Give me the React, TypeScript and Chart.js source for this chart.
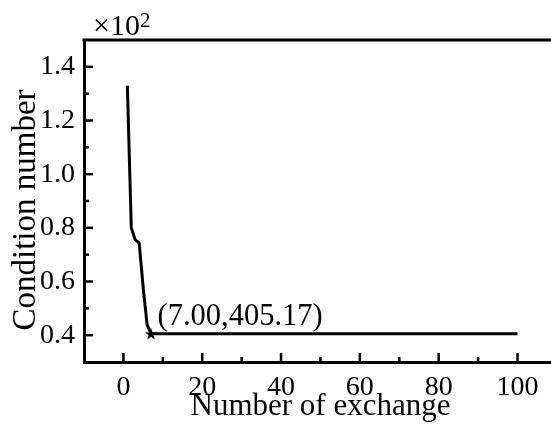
import React, { useEffect, useRef } from 'react';
import { Chart, registerables } from 'chart.js';

Chart.register(...registerables);

const exchanges = [1, 2, 3, 4, 5, 6, 7, 100];
const conditionNumbers = [1.33, 0.8, 0.755, 0.744, 0.58, 0.44, 0.40517, 0.40517];
const optimumPoint = { x: 7, y: 0.40517 };
const optimumLabel = '(7.00,405.17)';
const xTitle = 'Number of exchange';
const yTitle = 'Condition number';
const xMajorTicks = [0, 20, 40, 60, 80, 100];
const yMajorTicks = [0.4, 0.6, 0.8, 1.0, 1.2, 1.4];
const multiplierText = '×10';
const multiplierExponent = '2';

const FONT = "'Liberation Serif', 'Times New Roman', serif";

const isMajor = (list: number[], v: number) => list.some((m) => Math.abs(m - v) < 1e-6);

function makeStar(): HTMLCanvasElement {
  const c = document.createElement('canvas');
  const s = 14;
  c.width = s;
  c.height = s;
  const g = c.getContext('2d')!;
  const cx = s / 2;
  const cy = s / 2 + 0.5;
  const R = 6.5;
  const r = 2.6;
  g.beginPath();
  for (let i = 0; i < 10; i++) {
    const ang = -Math.PI / 2 + (i * Math.PI) / 5;
    const rad = i % 2 === 0 ? R : r;
    const px = cx + rad * Math.cos(ang);
    const py = cy + rad * Math.sin(ang);
    if (i === 0) g.moveTo(px, py);
    else g.lineTo(px, py);
  }
  g.closePath();
  g.fillStyle = '#000';
  g.fill();
  return c;
}

const decorPlugin = {
  id: 'decor',
  afterDatasetsDraw(chart: any) {
    const { ctx, chartArea, scales } = chart;
    const xs = scales.x;
    const ys = scales.y;
    ctx.save();
    ctx.strokeStyle = '#000';
    ctx.lineCap = 'butt';
    ctx.lineWidth = 2.5;
    xs.ticks.forEach((t: any) => {
      const px = xs.getPixelForValue(t.value);
      if (px <= chartArea.left + 1 || px >= chartArea.right - 1) return;
      const len = isMajor(xMajorTicks, t.value) ? 9 : 5;
      ctx.beginPath();
      ctx.moveTo(px, chartArea.bottom);
      ctx.lineTo(px, chartArea.bottom - len);
      ctx.stroke();
    });
    ys.ticks.forEach((t: any) => {
      const py = ys.getPixelForValue(t.value);
      if (py <= chartArea.top + 1 || py >= chartArea.bottom - 1) return;
      const len = isMajor(yMajorTicks, t.value) ? 9 : 5;
      ctx.beginPath();
      ctx.moveTo(chartArea.left, py);
      ctx.lineTo(chartArea.left + len, py);
      ctx.stroke();
    });
    // top frame line
    ctx.lineWidth = 3;
    ctx.beginPath();
    ctx.moveTo(chartArea.left - 1.5, chartArea.top);
    ctx.lineTo(chartArea.right, chartArea.top);
    ctx.stroke();

    ctx.fillStyle = '#000';
    ctx.textBaseline = 'alphabetic';

    // annotation
    const ax = xs.getPixelForValue(optimumPoint.x);
    const ay = ys.getPixelForValue(optimumPoint.y);
    ctx.font = `30.5px ${FONT}`;
    ctx.textAlign = 'left';
    ctx.fillText(optimumLabel, ax + 6.5, ay - 8.5);

    // multiplier
    const mx = chartArea.left + 9;
    ctx.font = `30px ${FONT}`;
    ctx.fillText(multiplierText, mx, chartArea.top - 5);
    const w = ctx.measureText(multiplierText).width;
    ctx.font = `21px ${FONT}`;
    ctx.fillText(multiplierExponent, mx + w, chartArea.top - 13);

    // axis titles
    ctx.font = `31px ${FONT}`;
    ctx.textAlign = 'center';
    ctx.fillText(xTitle, 320.5 - 0 + (chartArea.left - 84), chart.height - 11);

    ctx.save();
    ctx.font = `33px ${FONT}`;
    ctx.translate(chartArea.left - 49, (chartArea.top + chartArea.bottom) / 2 + 9);
    ctx.rotate(-Math.PI / 2);
    ctx.textAlign = 'center';
    ctx.fillText(yTitle, 0, 0);
    ctx.restore();

    ctx.restore();
  },
};

export default function App() {
  const ref = useRef<HTMLCanvasElement>(null);
  useEffect(() => {
    if (!ref.current) return;
    const star = makeStar();
    const chart = new Chart(ref.current, {
      type: 'line',
      data: {
        datasets: [
          {
            data: exchanges.map((x, i) => ({ x, y: conditionNumbers[i] })),
            borderColor: '#000',
            borderWidth: 3,
            pointRadius: 0,
            tension: 0,
            borderJoinStyle: 'round',
            fill: false,
          },
          {
            data: [optimumPoint],
            showLine: false,
            pointStyle: star as any,
            pointRadius: 7,
            borderColor: '#000',
            backgroundColor: '#000',
          },
        ],
      },
      options: {
        animation: false,
        responsive: false,
        devicePixelRatio: 1,
        layout: { autoPadding: false, padding: { top: 40, left: 0, right: 0, bottom: 0 } },
        plugins: { legend: { display: false }, tooltip: { enabled: false } },
        scales: {
          x: {
            type: 'linear',
            min: -10,
            max: 108.5,
            grid: { display: false, drawTicks: false },
            border: { display: true, width: 3, color: '#000' },
            ticks: {
              stepSize: 10,
              autoSkip: false,
              maxRotation: 0,
              minRotation: 0,
              includeBounds: false,
              padding: 9,
              color: '#000',
              font: { family: FONT, size: 28 },
              callback: (v: any) => (isMajor(xMajorTicks, Number(v)) ? String(Math.round(Number(v))) : ''),
            },
            title: { display: false },
            afterFit: (s: any) => {
              s.height = 64;
              s.paddingLeft = 0;
              s.paddingRight = 0;
            },
          },
          y: {
            type: 'linear',
            min: 0.3,
            max: 1.5,
            grid: { display: false, drawTicks: false },
            border: { display: true, width: 3, color: '#000' },
            ticks: {
              stepSize: 0.1,
              autoSkip: false,
              includeBounds: false,
              padding: 9,
              color: '#000',
              font: { family: FONT, size: 28 },
              callback: (v: any) => (isMajor(yMajorTicks, Number(v)) ? Number(v).toFixed(1) : ''),
            },
            title: { display: false },
            afterFit: (s: any) => {
              s.width = 84;
              s.paddingTop = 0;
              s.paddingBottom = 0;
            },
          },
        },
      },
      plugins: [decorPlugin],
    });
    return () => chart.destroy();
  }, []);
  return (
    <div style={{ position: 'fixed', left: 0, top: 0, width: 551, height: 426, overflow: 'hidden', background: '#fff' }}>
      <canvas ref={ref} width={551} height={426} style={{ display: 'block' }} />
    </div>
  );
}
